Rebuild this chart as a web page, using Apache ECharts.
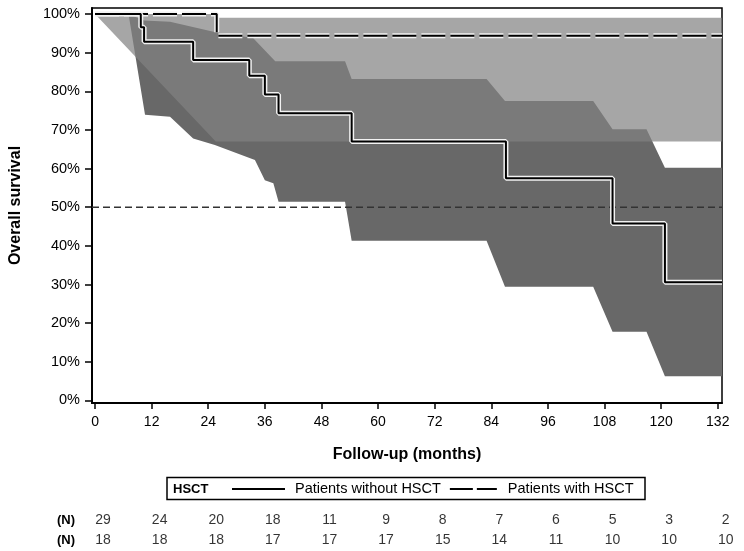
<!DOCTYPE html>
<html><head><meta charset="utf-8">
<script src="https://cdn.jsdelivr.net/npm/echarts@6/dist/echarts.min.js"></script>
<style>html,body{margin:0;padding:0;background:#fff}#c{width:744px;height:551px}</style>
</head><body><div id="c"></div>
<script>
// ---- data ----
const xTicks = [0, 12, 24, 36, 48, 60, 72, 84, 96, 108, 120, 132];
const yTicks = [0, 10, 20, 30, 40, 50, 60, 70, 80, 90, 100];
// Kaplan-Meier estimates (months, % surviving)
const noHsctTime = [0, 9.7, 10.4, 20.8, 32.7, 36.0, 38.9, 54.4, 87.1, 109.7, 120.8, 132.9];
const noHsctSurv = [100, 96.6, 92.8, 88.1, 84.0, 79.2, 74.3, 67.0, 57.5, 45.8, 30.6, 30.6];
const hsctTime = [0, 25.8, 132.9];
const hsctSurv = [100, 94.4, 94.4];
// confidence bands
const noHsctUpperTime = [7.1, 10.4, 15.9, 25.8, 33.5, 38.2, 53.0, 54.4, 83.0, 86.9, 105.6, 109.7, 116.9, 120.8, 132.9];
const noHsctUpper = [100, 98.3, 98.0, 95.2, 93.8, 87.8, 87.8, 83.2, 83.2, 77.5, 77.5, 70.2, 70.2, 60.2, 60.2];
const noHsctLowerTime = [7.1, 10.6, 15.9, 20.8, 25.4, 32.9, 33.9, 36.0, 37.8, 38.9, 53.0, 54.4, 83.0, 86.9, 105.6, 109.7, 116.9, 120.8, 132.9];
const noHsctLower = [100, 73.9, 73.4, 67.8, 66.1, 62.7, 62.2, 57.0, 56.2, 51.4, 51.4, 41.3, 41.3, 29.4, 29.4, 17.8, 17.8, 6.3, 6.3];
const hsctUpperTime = [0, 25.8, 25.9, 132.9];
const hsctUpper = [100, 100, 99.0, 99.0];
const hsctLowerTime = [0, 25.6, 132.9];
const hsctLower = [100, 67.0, 67.0];
// numbers at risk
const atRiskNoHsct = [29, 24, 20, 18, 11, 9, 8, 7, 6, 5, 3, 2];
const atRiskHsct = [18, 18, 18, 17, 17, 17, 15, 14, 11, 10, 10, 10];
const refLevel = 50;

// ---- helpers ----
const pairs = (t, v) => t.map((x, i) => [x, v[i]]);
function band(ut, uv, lt, lv) {
  const up = pairs(ut, uv), lo = pairs(lt, lv).reverse();
  return up.concat(lo);
}
function bandSeries(poly, fill, z) {
  return {
    type: 'custom', coordinateSystem: 'cartesian2d', xAxisIndex: 0, yAxisIndex: 0,
    data: [[0, 0]], silent: true, z: z, clip: true,
    renderItem: (params, api) => ({
      type: 'polygon',
      shape: { points: poly.map(p => api.coord(p)) },
      style: { fill: fill, stroke: null }
    })
  };
}
const XMIN = -0.64, XMAX = 132.9, YMIN = -0.65, YMAX = 101.55;
const font = 'Liberation Sans, Arial, sans-serif';
const narrow = 'Liberation Sans Narrow, Arial Narrow, Liberation Sans, sans-serif';

const chart = echarts.init(document.getElementById('c'), null, { renderer: 'canvas' });
chart.setOption({
  animation: false,
  backgroundColor: '#fff',
  grid: [
    { left: 92, right: 22, top: 8, bottom: 148, containLabel: false, outerBoundsMode: 'none', show: true, borderColor: '#000', borderWidth: 1.5, backgroundColor: 'transparent' },
    { left: 92, right: 22, top: 510, height: 40, containLabel: false, outerBoundsMode: 'none' }
  ],
  xAxis: [
    {
      type: 'value', gridIndex: 0, min: XMIN, max: XMAX,
      name: 'Follow-up (months)', nameLocation: 'middle', nameGap: 44,
      nameTextStyle: { fontFamily: narrow, fontWeight: 'bold', fontSize: 16, color: '#000' },
      axisLine: { show: true, onZero: false, lineStyle: { color: '#000', width: 2 } },
      axisTick: { show: true, customValues: xTicks, length: 6, lineStyle: { color: '#000', width: 1.5 } },
      axisLabel: { customValues: xTicks, margin: 12, fontFamily: font, fontSize: 14, color: '#000' },
      splitLine: { show: false }
    },
    { type: 'value', gridIndex: 1, min: XMIN, max: XMAX, show: false }
  ],
  yAxis: [
    {
      type: 'value', gridIndex: 0, min: YMIN, max: YMAX,
      name: 'Overall survival', nameLocation: 'middle', nameGap: 68, nameRotate: 90,
      nameTextStyle: { fontFamily: font, fontWeight: 'bold', fontSize: 16, color: '#000' },
      axisLine: { show: true, onZero: false, lineStyle: { color: '#000', width: 2 } },
      axisTick: { show: true, customValues: yTicks, length: 7, lineStyle: { color: '#000', width: 1.5 } },
      axisLabel: { customValues: yTicks, margin: 12, formatter: '{value}%', fontFamily: font, fontSize: 14.5, color: '#000' },
      splitLine: { show: false }
    },
    {
      type: 'category', gridIndex: 1, data: ['hsct', 'nohsct'],
      axisLine: { show: false }, axisTick: { show: false },
      axisLabel: { formatter: () => '(N)', margin: 17, fontFamily: narrow, fontWeight: 'bold', fontSize: 13, color: '#000' }
    }
  ],
  legend: {
    left: 232, top: 481.5, padding: 0, itemWidth: 58, itemHeight: 14, itemGap: 4,
    textStyle: { fontFamily: font, fontSize: 14.5, color: '#000' },
    data: [
      { name: 'Patients without HSCT', icon: 'path://M0,0H53V2H0Z M58,0H58.01V2H58Z' },
      { name: 'Patients with HSCT', icon: 'path://M0,0H0.01V2H0Z M5,0H28V2H5Z M32,0H52V2H32Z M58,0H58.01V2H58Z' }
    ]
  },
  graphic: [
    { type: 'rect', shape: { x: 167, y: 477.5, width: 478, height: 22 }, style: { fill: 'none', stroke: '#000', lineWidth: 1.5 }, silent: true },
    { type: 'text', x: 173, y: 489, style: { text: 'HSCT', font: 'bold 13px Liberation Sans, Arial, sans-serif', fill: '#000', verticalAlign: 'middle' }, silent: true }
  ],
  series: [
    bandSeries(band(noHsctUpperTime, noHsctUpper, noHsctLowerTime, noHsctLower), 'rgb(104,104,104)', 1),
    bandSeries(band(hsctUpperTime, hsctUpper, hsctLowerTime, hsctLower), 'rgba(130,130,130,0.71)', 2),
    {
      name: '_ref', type: 'line', xAxisIndex: 0, yAxisIndex: 0, symbol: 'none', silent: true, z: 3,
      data: [[XMIN, refLevel], [XMAX, refLevel]],
      lineStyle: { color: '#333', width: 1.5, type: [7, 4] }
    },
    {
      name: '_haloHsct', type: 'line', step: 'end', symbol: 'none', silent: true, z: 4,
      data: pairs(hsctTime, hsctSurv), lineStyle: { color: '#f2f2f2', width: 5, type: [24, 5] }
    },
    {
      name: 'Patients with HSCT', type: 'line', step: 'end', symbol: 'none', z: 5,
      data: pairs(hsctTime, hsctSurv), lineStyle: { color: '#000', width: 2, type: [24, 5] }, itemStyle: { color: '#000' }
    },
    {
      name: '_haloNo', type: 'line', step: 'end', symbol: 'none', silent: true, z: 6,
      data: pairs(noHsctTime, noHsctSurv), lineStyle: { color: '#f2f2f2', width: 5 }
    },
    {
      name: 'Patients without HSCT', type: 'line', step: 'end', symbol: 'none', z: 7,
      data: pairs(noHsctTime, noHsctSurv), lineStyle: { color: '#000', width: 2 }, itemStyle: { color: '#000' }
    },
    {
      name: '_riskNo', type: 'scatter', xAxisIndex: 1, yAxisIndex: 1, symbolSize: 0, silent: true,
      data: xTicks.map((t, i) => ({ value: [t, 'nohsct'], n: atRiskNoHsct[i] })),
      label: { show: true, position: 'inside', offset: [8, 0], formatter: p => String(p.data.n), fontFamily: narrow, fontSize: 14, color: '#000' }
    },
    {
      name: '_riskHsct', type: 'scatter', xAxisIndex: 1, yAxisIndex: 1, symbolSize: 0, silent: true,
      data: xTicks.map((t, i) => ({ value: [t, 'hsct'], n: atRiskHsct[i] })),
      label: { show: true, position: 'inside', offset: [8, 0], formatter: p => String(p.data.n), fontFamily: narrow, fontSize: 14, color: '#000' }
    }
  ]
});
</script></body></html>
